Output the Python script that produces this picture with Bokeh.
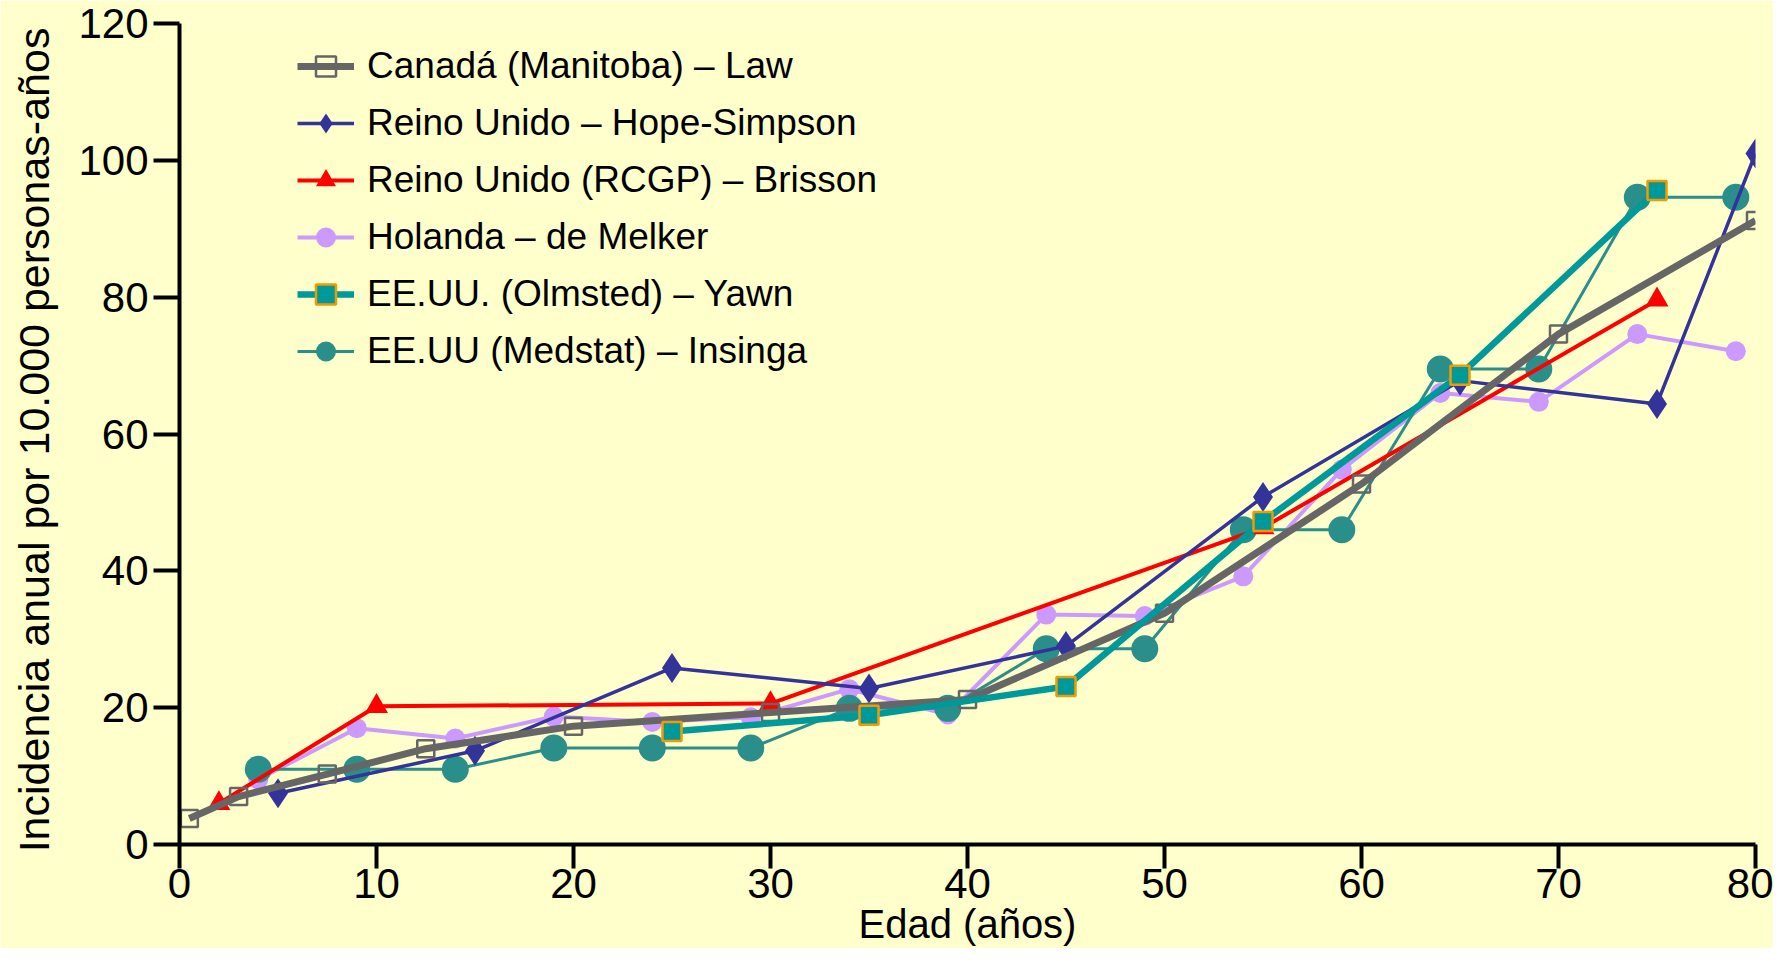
from bokeh.plotting import figure
from bokeh.models import Legend, LegendItem, FixedTicker, Range1d
from bokeh.embed import file_html
from bokeh.resources import INLINE

# ---------------- data ----------------
law_x = [0.5, 3, 7.5, 12.5, 20, 30, 40, 50, 60, 70, 80]
law_y = [3.8, 7.0, 10.3, 14.0, 17.3, 19.3, 21.2, 33.8, 52.7, 74.6, 91.2]

hope_x = [5, 15, 25, 35, 45, 55, 65, 75, 80]
hope_y = [7.5, 13.7, 25.8, 22.8, 29.0, 50.8, 67.8, 64.4, 101.0]

brisson_x = [2, 10, 30, 55, 75]
brisson_y = [6.0, 20.2, 20.6, 46.3, 79.6]

melker_x = [4, 9, 14, 19, 24, 29, 34, 39, 44, 49, 54, 59, 64, 69, 74, 79]
melker_y = [9.5, 17.0, 15.5, 18.7, 17.9, 18.6, 22.7, 19.0, 33.6, 33.4, 39.2, 54.8, 66.0, 64.7, 74.6, 72.1]

yawn_x = [25, 35, 45, 55, 65, 75]
yawn_y = [16.5, 18.9, 23.1, 47.2, 68.6, 95.6]

insinga_x = [4, 9, 14, 19, 24, 29, 34, 39, 44, 49, 54, 59, 64, 69, 74, 79]
insinga_y = [11.0, 11.0, 11.0, 14.1, 14.1, 14.1, 19.9, 19.9, 28.6, 28.6, 46.0, 46.0, 69.5, 69.5, 94.6, 94.6]

labels = [
    "Canadá (Manitoba) – Law",
    "Reino Unido – Hope-Simpson",
    "Reino Unido (RCGP) – Brisson",
    "Holanda – de Melker",
    "EE.UU. (Olmsted) – Yawn",
    "EE.UU (Medstat) – Insinga",
]

x_ticks = [0, 10, 20, 30, 40, 50, 60, 70, 80]
y_ticks = [0, 20, 40, 60, 80, 100, 120]

BG = "#FFFFCC"
FONT = "Liberation Sans"

p = figure(width=1773, height=948, output_backend="svg", toolbar_location=None,
           x_range=Range1d(0, 80), y_range=Range1d(0, 120),
           background_fill_color=BG, border_fill_color=BG,
           min_border_left=179, min_border_right=18, min_border_top=23, min_border_bottom=104)
p.outline_line_color = None
p.xgrid.visible = False
p.ygrid.visible = False

# ---------------- series (draw order) ----------------
r_mel_l = p.line(melker_x, melker_y, line_color="#CC99FF", line_width=4)
r_mel_m = p.scatter(melker_x, melker_y, marker="circle", size=20, fill_color="#CC99FF", line_color=None)

r_ins_l = p.line(insinga_x, insinga_y, line_color="#2A8E8A", line_width=3)
r_ins_m = p.scatter(insinga_x, insinga_y, marker="circle", size=27, fill_color="#2A8E8A", line_color=None)

r_bri_l = p.line(brisson_x, brisson_y, line_color="#FF0000", line_width=4)
r_bri_m = p.scatter(brisson_x, brisson_y, marker="triangle", size=23, fill_color="#FF0000", line_color=None)

r_hop_l = p.line(hope_x, hope_y, line_color="#333399", line_width=3.5)
r_hop_m = p.scatter(hope_x, hope_y, marker="diamond", size=30, fill_color="#333399", line_color=None)

r_law_l = p.line(law_x, law_y, line_color="#666666", line_width=7)
r_law_m = p.scatter(law_x, law_y, marker="square", size=17, fill_color=None, line_color="#666666", line_width=2.5)

r_yaw_l = p.line(yawn_x, yawn_y, line_color="#009999", line_width=6.5)
r_yaw_m = p.scatter(yawn_x, yawn_y, marker="square", size=19, fill_color="#009999", line_color="#F29B00", line_width=2.5)

# ---------------- axes ----------------
for ax in (p.xaxis[0], p.yaxis[0]):
    ax.axis_line_width = 4
    ax.axis_line_color = "black"
    ax.major_tick_line_width = 4
    ax.major_tick_line_color = "black"
    ax.major_tick_in = 0
    ax.minor_tick_line_color = None
    ax.major_label_text_font = FONT
    ax.major_label_text_font_size = "42px"
    ax.major_label_text_color = "black"
    ax.axis_label_text_font = FONT
    ax.axis_label_text_font_style = "normal"
    ax.axis_label_text_color = "black"

p.xaxis.ticker = FixedTicker(ticks=x_ticks)
p.yaxis.ticker = FixedTicker(ticks=y_ticks)
p.xaxis.major_tick_out = 24
p.yaxis.major_tick_out = 26
p.xaxis.major_label_standoff = 0
p.yaxis.major_label_standoff = 5
p.xaxis.axis_label = "Edad (años)"
p.xaxis.axis_label_text_font_size = "40px"
p.xaxis.axis_label_standoff = 1
p.yaxis.axis_label = "Incidencia anual  por 10.000 personas-años"
p.yaxis.axis_label_text_font_size = "43px"
p.yaxis.axis_label_standoff = 17

# ---------------- legend ----------------
items = [
    LegendItem(label=labels[0], renderers=[r_law_l, r_law_m]),
    LegendItem(label=labels[1], renderers=[r_hop_l, r_hop_m]),
    LegendItem(label=labels[2], renderers=[r_bri_l, r_bri_m]),
    LegendItem(label=labels[3], renderers=[r_mel_l, r_mel_m]),
    LegendItem(label=labels[4], renderers=[r_yaw_l, r_yaw_m]),
    LegendItem(label=labels[5], renderers=[r_ins_l, r_ins_m]),
]
legend = Legend(items=items, location=(118, 468), background_fill_alpha=0,
                border_line_color=None, padding=0, margin=0,
                glyph_width=57, glyph_height=50, label_height=50,
                label_standoff=13, spacing=7,
                label_text_font=FONT, label_text_font_size="37px",
                label_text_color="black")
p.add_layout(legend)

open("out.html", "w").write(file_html(p, INLINE))
